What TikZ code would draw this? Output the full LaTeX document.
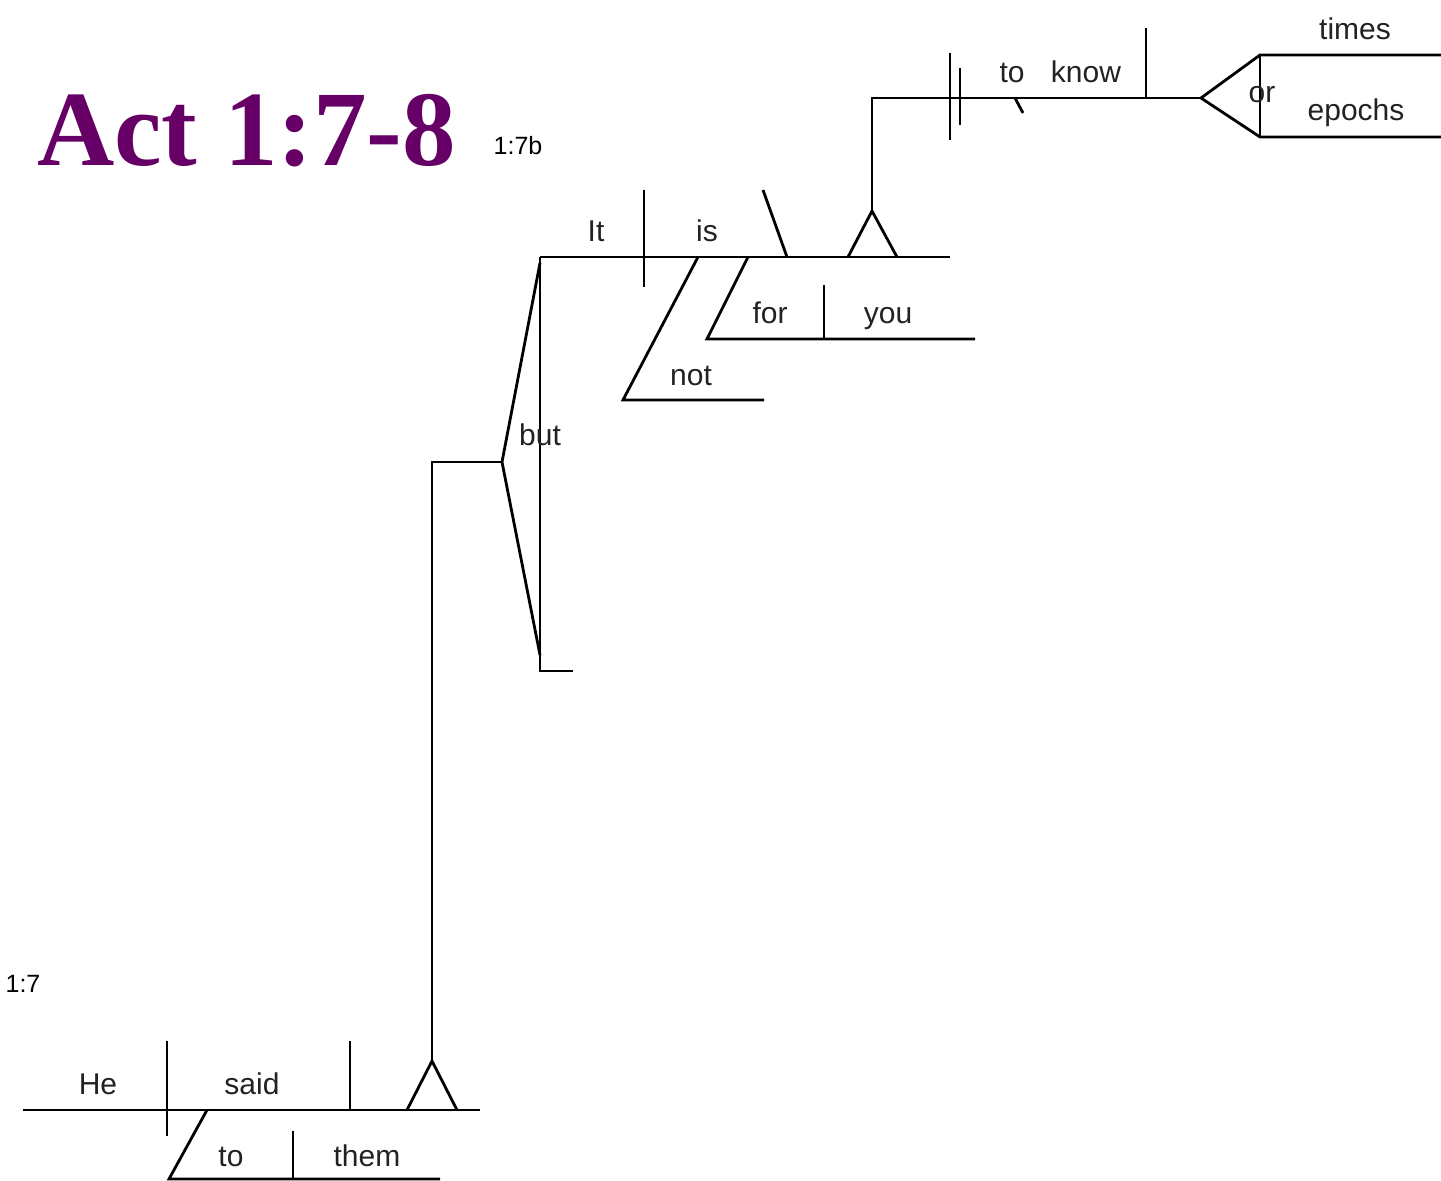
\documentclass[tikz,border=0pt]{standalone}
\usepackage{fontspec}
\setmainfont{Liberation Sans}
\newfontfamily\titlefont{Liberation Serif}
\definecolor{titlepurple}{HTML}{660066}
\definecolor{wordgray}{HTML}{222222}
\begin{document}
\begin{tikzpicture}[x=1pt,y=-1pt,
  ln/.style={line width=2.8pt,line cap=butt,line join=miter},
  word/.style={inner sep=0pt,anchor=base,font=\fontsize{30}{31}\selectfont,text=wordgray},
  verse/.style={inner sep=0pt,anchor=base,font=\fontsize{25}{26}\selectfont,text=black}]
\useasboundingbox (0,0) rectangle (1441,1181);
% title
\node[inner sep=0pt,anchor=base west,text=titlepurple,font=\titlefont\bfseries\fontsize{107}{110}\selectfont] (title) at (37,165) {Act 1:7-8};
\node[verse] (v7b) at (518,154) {1:7b};
\node[verse] (v7) at (23,992) {1:7};
% ---- clause 1:7
\coordinate (mL) at (23,1110); \coordinate (mR) at (480,1110);
\draw[ln] (mL) -- (mR);
\coordinate (d1t) at (167,1041); \coordinate (d1b) at (167,1136);
\draw[ln] (d1t) -- (d1b);
\coordinate (d2t) at (350,1041); \coordinate (d2b) at (350,1110);
\draw[ln] (d2t) -- (d2b);
\coordinate (p1a) at (407,1110); \coordinate (p1t) at (432,1061); \coordinate (p1b) at (457,1110);
\draw[ln] (p1a) -- (p1t) -- (p1b);
\node[word] (he) at (98,1094) {He};
\node[word] (said) at (252,1094) {said};
\coordinate (s1a) at (207,1110); \coordinate (s1b) at (169,1179); \coordinate (s1c) at (440,1179);
\draw[ln] (s1a) -- (s1b) -- (s1c);
\coordinate (d3t) at (293,1131); \coordinate (d3b) at (293,1179);
\draw[ln] (d3t) -- (d3b);
\node[word] (to1) at (231,1166) {to};
\node[word] (them) at (367,1166) {them};
% connector up to but
\coordinate (c1) at (432,462); \coordinate (cb) at (502,462);
\draw[ln] (p1t) -- (c1) -- (cb);
% but fork
\coordinate (bt) at (540,263); \coordinate (bb) at (540,655);
\draw[ln] (bt) -- (cb) -- (bb);
\coordinate (vt) at (540,257); \coordinate (vb) at (540,671); \coordinate (vr) at (573,671);
\draw[ln] (vt) -- (vb) -- (vr);
\node[word] (but) at (540,445) {but};
% ---- clause 1:7b
\coordinate (tR) at (950,257);
\draw[ln] (vt) -- (tR);
\coordinate (d4t) at (644,190); \coordinate (d4b) at (644,287);
\draw[ln] (d4t) -- (d4b);
\coordinate (bs1) at (763,190); \coordinate (bs2) at (787,257);
\draw[ln] (bs1) -- (bs2);
\coordinate (p2a) at (848,257); \coordinate (p2t) at (872,211); \coordinate (p2b) at (897,257);
\draw[ln] (p2a) -- (p2t) -- (p2b);
\node[word] (it) at (596,241) {It};
\node[word] (is) at (707,241) {is};
\coordinate (n1) at (698,257); \coordinate (n2) at (623,400); \coordinate (n3) at (764,400);
\draw[ln] (n1) -- (n2) -- (n3);
\node[word] (not) at (691,385) {not};
\coordinate (f1) at (748,257); \coordinate (f2) at (707,339); \coordinate (f3) at (975,339);
\draw[ln] (f1) -- (f2) -- (f3);
\coordinate (d5t) at (824,285); \coordinate (d5b) at (824,339);
\draw[ln] (d5t) -- (d5b);
\node[word] (for) at (770,323) {for};
\node[word] (you) at (888,323) {you};
% ---- infinitive phrase
\coordinate (k1) at (872,98); \coordinate (k2) at (1201,98);
\draw[ln] (p2t) -- (k1) -- (k2);
\coordinate (dd1t) at (950,53); \coordinate (dd1b) at (950,140);
\coordinate (dd2t) at (960,68); \coordinate (dd2b) at (960,125);
\draw[ln] (dd1t) -- (dd1b);
\draw[ln] (dd2t) -- (dd2b);
\coordinate (tk1) at (1015,98); \coordinate (tk2) at (1023,113);
\draw[ln] (tk1) -- (tk2);
\coordinate (d6t) at (1146,28); \coordinate (d6b) at (1146,98);
\draw[ln] (d6t) -- (d6b);
\node[word] (to2) at (1012,82) {to};
\node[word] (know) at (1086,82) {know};
% or fork
\coordinate (o1) at (1260,55); \coordinate (o2) at (1260,137);
\coordinate (o1r) at (1441,55); \coordinate (o2r) at (1441,137);
\draw[ln] (o1r) -- (o1) -- (k2) -- (o2) -- (o2r);
\draw[ln] (o1) -- (o2);
\node[word] (or) at (1262,102) {or};
\node[word] (times) at (1355,39) {times};
\node[word] (epochs) at (1356,120) {epochs};
\end{tikzpicture}
\end{document}
